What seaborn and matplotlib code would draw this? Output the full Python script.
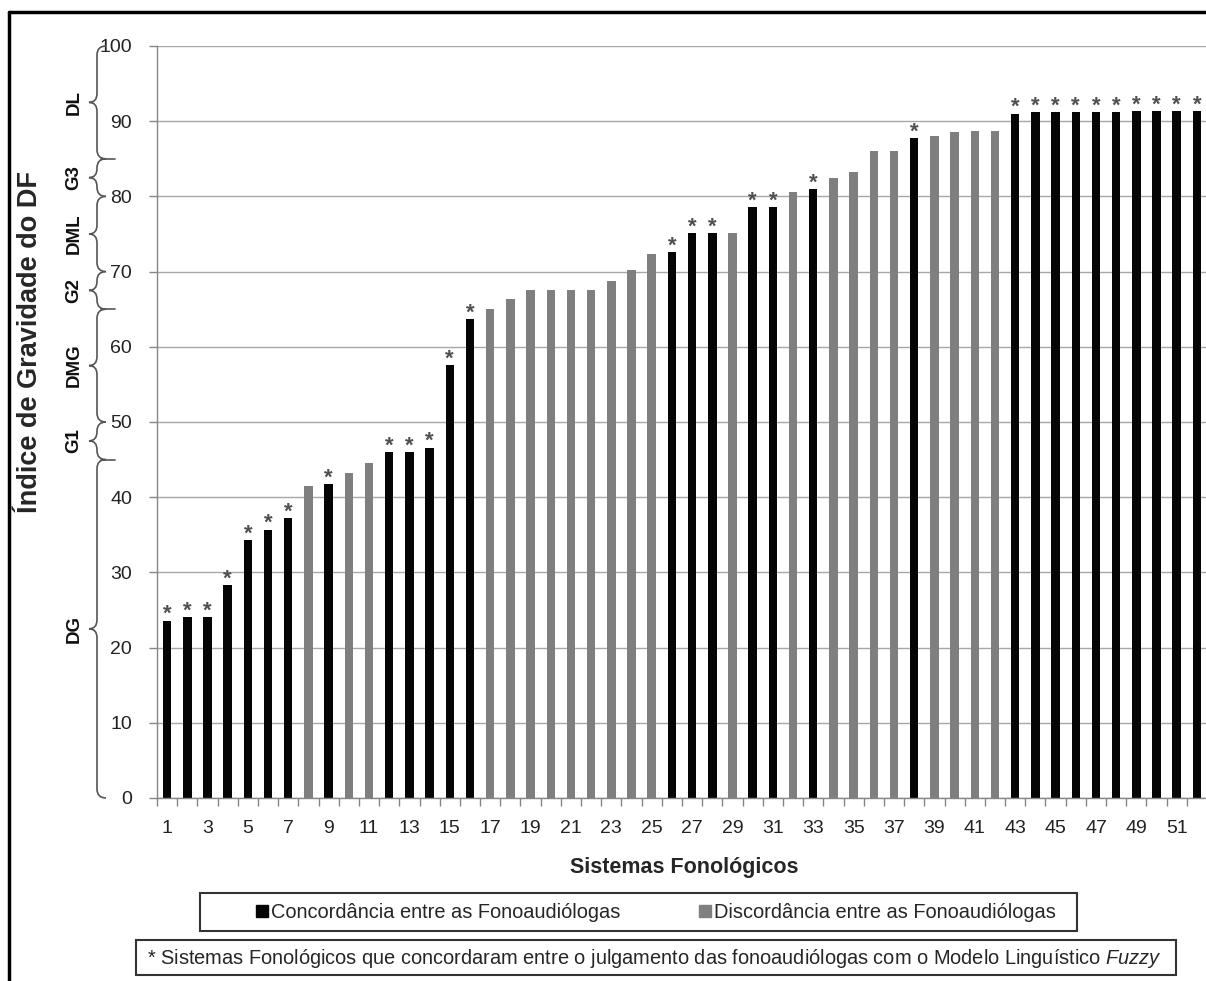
import numpy as np
import pandas as pd
import matplotlib
matplotlib.use("Agg")
import matplotlib.pyplot as plt
import matplotlib.transforms as mtransforms
from matplotlib.path import Path
from matplotlib.patches import PathPatch, Rectangle
from matplotlib.lines import Line2D
import seaborn as sns

# values
sistemas = list(range(1, 53))
indice = [23.6, 24.1, 24.1, 28.3, 34.3, 35.7, 37.2, 41.5, 41.7, 43.2,
          44.6, 46.0, 46.0, 46.6, 57.6, 63.7, 65.0, 66.4, 67.5, 67.5,
          67.5, 67.5, 68.8, 70.2, 72.4, 72.6, 75.1, 75.1, 75.1, 78.6,
          78.6, 80.6, 81.0, 82.5, 83.3, 86.0, 86.0, 87.7, 88.0, 88.6,
          88.7, 88.7, 91.0, 91.2, 91.2, 91.2, 91.2, 91.2, 91.3, 91.3,
          91.3, 91.3]
concordantes = [1, 2, 3, 4, 5, 6, 7, 9, 12, 13, 14, 15, 16, 26, 27, 28,
                30, 31, 33, 38, 43, 44, 45, 46, 47, 48, 49, 50, 51, 52]
rotulos_legenda = ["Concordância entre as Fonoaudiólogas",
                   "Discordância entre as Fonoaudiólogas"]
# severity bands shown by the braces on the left (top, bottom, label)
faixas = [(100, 85, "DL"), (85, 80, "G3"), (80, 70, "DML"), (70, 65, "G2"),
          (65, 50, "DMG"), (50, 45, "G1"), (45, 0, "DG")]
separadores = [85, 65, 45]

df = pd.DataFrame({"sistema": sistemas, "indice": indice})
df["grupo"] = np.where(df["sistema"].isin(concordantes),
                       rotulos_legenda[0], rotulos_legenda[1])

sns.set_style("white")
plt.rcParams["font.family"] = ["Liberation Sans", "DejaVu Sans"]
plt.rcParams["mathtext.fontset"] = "custom"
plt.rcParams["mathtext.it"] = "Liberation Sans:italic"
plt.rcParams["mathtext.rm"] = "Liberation Sans"

W, H = 1206, 981
fig = plt.figure(figsize=(W / 100, H / 100), dpi=100)
ax_left, ax_right, ax_top, ax_bot = 157, 1207, 46, 798
ax = fig.add_axes([ax_left / W, 1 - ax_bot / H, (ax_right - ax_left) / W,
                   (ax_bot - ax_top) / H])

cores = {rotulos_legenda[0]: "#050505", rotulos_legenda[1]: "#7f7f7f"}
sns.barplot(data=df, x="sistema", y="indice", hue="grupo", palette=cores,
            dodge=False, native_scale=True, width=0.42, legend=False, ax=ax,
            saturation=1, linewidth=0)

# asterisks over the concordant systems
for s, v in zip(sistemas, indice):
    if s in concordantes:
        ax.text(s, v + 0.8, "*", ha="center", va="center", fontsize=16,
                color="#505050", fontweight="bold")

ax.set_xlim(0.5, 52.5)
ax.set_ylim(0, 100)
ax.set_yticks(range(0, 101, 10))
ax.set_xticks(range(1, 53, 2))
ax.set_xticks(np.arange(0.5, 53, 1), minor=True)
ax.tick_params(axis="x", which="major", length=0, pad=16, labelsize=14,
               labelcolor="#222222")
ax.tick_params(axis="x", which="minor", length=6, width=1, color="#868686",
               direction="out", bottom=True)
ax.tick_params(axis="y", length=6, width=1, color="#868686", direction="out",
               left=True, pad=12, labelsize=14, labelcolor="#222222")
ax.set_xlabel("")
ax.set_ylabel("")
ax.yaxis.grid(True, color="#a8a8a8", lw=1)
ax.set_axisbelow(True)
for lado in ["top", "right"]:
    ax.spines[lado].set_visible(False)
for lado in ["left", "bottom"]:
    ax.spines[lado].set_color("#868686")
    ax.spines[lado].set_linewidth(1)

# braces on the left, x in pixels, y in data
trans = mtransforms.blended_transform_factory(ax.transAxes, ax.transData)


def px(x):
    return (x - ax_left) / (ax_right - ax_left)


x0 = 97
for topo, base, rot in faixas:
    meio = (topo + base) / 2
    r = min(1.2, (topo - base) / 4)
    verts = [(px(x0 + 9), topo), (px(x0), topo), (px(x0), topo - r),
             (px(x0), meio + r),
             (px(x0), meio), (px(x0 - 8), meio),
             (px(x0), meio), (px(x0), meio - r),
             (px(x0), base + r),
             (px(x0), base), (px(x0 + 9), base)]
    codes = [Path.MOVETO, Path.CURVE3, Path.CURVE3, Path.LINETO,
             Path.CURVE3, Path.CURVE3, Path.CURVE3, Path.CURVE3,
             Path.LINETO, Path.CURVE3, Path.CURVE3]
    ax.add_patch(PathPatch(Path(verts, codes), transform=trans, fill=False,
                           edgecolor="#555555", lw=1.2, clip_on=False))
    ax.text(px(74), meio, rot, transform=trans, rotation=90, ha="center",
            va="center", fontsize=13.5, fontweight="bold", color="#111111")
for y in separadores:
    ax.plot([px(x0 + 4), px(x0 + 18)], [y, y], transform=trans,
            color="#555555", lw=1.2, clip_on=False)

fig.text(30 / W, 1 - 342 / H, "Índice de Gravidade do DF", rotation=90,
         ha="center", va="center", fontsize=19.5, fontweight="bold")
fig.text(684 / W, 1 - 868 / H, "Sistemas Fonológicos", ha="center",
         va="center", fontsize=15.5, fontweight="bold")

# legend box
fig.add_artist(Rectangle((200 / W, 1 - 931 / H), 877 / W, 38 / H,
                         transform=fig.transFigure, fill=False,
                         edgecolor="#333333", lw=1.5))
handles = [Line2D([], [], marker="s", ls="", color=cores[k], markersize=8)
           for k in rotulos_legenda]
fig.legend(handles, rotulos_legenda, ncol=2, loc="center",
           bbox_to_anchor=(655 / W, 1 - 912 / H), frameon=False,
           handletextpad=0.05, columnspacing=3.8, fontsize=14.4,
           handlelength=0.8)

# footnote box
fig.add_artist(Rectangle((136 / W, 1 - 975 / H), 1040 / W, 35 / H,
                         transform=fig.transFigure, fill=False,
                         edgecolor="#333333", lw=1.5))
fig.text(654 / W, 1 - 958 / H,
         "* Sistemas Fonológicos que concordaram entre o julgamento das "
         "fonoaudiólogas com o Modelo Linguístico $\\it{Fuzzy}$",
         ha="center", va="center", fontsize=14.4)

# outer frame
fig.add_artist(Line2D([9 / W, 9 / W], [0, 1 - 12 / H], color="black", lw=2.5,
                      transform=fig.transFigure))
fig.add_artist(Line2D([9 / W, 1], [1 - 12 / H, 1 - 12 / H], color="black",
                      lw=2.5, transform=fig.transFigure))

fig.savefig("out.png", dpi=100)
